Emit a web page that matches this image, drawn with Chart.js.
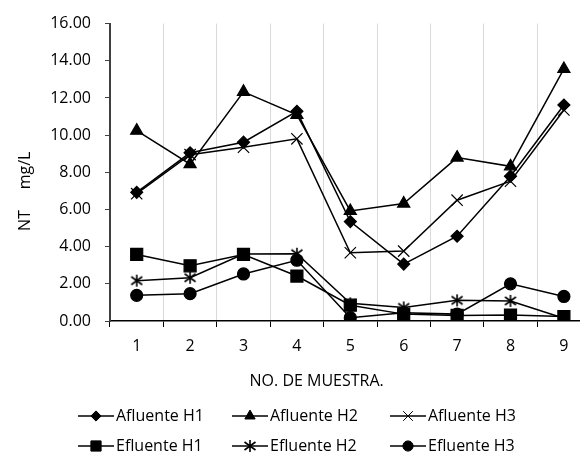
<!DOCTYPE html>
<html>
<head>
<meta charset="utf-8">
<script src="https://cdn.jsdelivr.net/npm/chart.js@4/dist/chart.umd.min.js"></script>
<style>
  html, body { margin: 0; padding: 0; background: #fff; overflow: hidden; width: 580px; height: 465px; }
  #wrap { position: relative; width: 620px; height: 465px; }
</style>
</head>
<body>
<div id="wrap"><canvas id="c" width="620" height="465"></canvas></div>
<script>
// Sample numbers (x axis)
const muestras = ['1', '2', '3', '4', '5', '6', '7', '8', '9'];

// Total nitrogen, mg/L
const afluenteH1 = [6.92, 9.05, 9.62, 11.28, 5.35, 3.06, 4.56, 7.79, 11.62];
const afluenteH2 = [10.24, 8.44, 12.33, 11.09, 5.92, 6.32, 8.79, 8.32, 13.56];
const afluenteH3 = [6.85, 8.95, 9.35, 9.80, 3.67, 3.76, 6.50, 7.52, 11.35];
const efluenteH1 = [3.58, 2.97, 3.58, 2.42, 0.85, 0.37, 0.30, 0.32, 0.24];
const efluenteH2 = [2.17, 2.33, 3.60, 3.62, 0.95, 0.73, 1.11, 1.08, 0.15];
const efluenteH3 = [1.38, 1.47, 2.53, 3.27, 0.18, 0.45, 0.37, 2.00, 1.32];

// Y axis range and step
const yMin = 0, yMax = 16, yStep = 2;

const FONT = '"Open Sans", "DejaVu Sans", sans-serif';

// six-armed asterisk marker
function asterisk(size) {
  const c = document.createElement('canvas');
  c.width = size; c.height = size;
  const g = c.getContext('2d');
  const m = size / 2;
  g.strokeStyle = '#000';
  g.lineWidth = 1.6;
  g.beginPath();
  g.moveTo(m, 1); g.lineTo(m, size - 1);
  g.moveTo(m - 5.5, m - 4); g.lineTo(m + 5.5, m + 4);
  g.moveTo(m - 5.5, m + 4); g.lineTo(m + 5.5, m - 4);
  g.stroke();
  return c;
}
const starImg = asterisk(14);

function series(label, data, style, radius) {
  return {
    label, data,
    borderColor: '#000', backgroundColor: '#000',
    borderWidth: 1.5,
    pointStyle: style, pointRadius: radius, pointHoverRadius: radius,
    pointBorderWidth: 1.2, pointBorderColor: '#000', pointBackgroundColor: '#000',
    tension: 0, fill: false
  };
}

const datasets = [
  series('Afluente H1', afluenteH1, 'rectRot', 6),
  series('Afluente H2', afluenteH2, 'triangle', 7),
  series('Afluente H3', afluenteH3, 'crossRot', 8),
  series('Efluente H1', efluenteH1, 'rect', 8.5),
  series('Efluente H2', efluenteH2, starImg, 7),
  series('Efluente H3', efluenteH3, 'circle', 6)
];

// axis titles and two-row legend
const decorations = {
  id: 'decorations',
  afterDraw(chart) {
    const { ctx, chartArea: a } = chart;
    ctx.save();
    ctx.fillStyle = '#000';
    ctx.font = '16px ' + FONT;
    ctx.textBaseline = 'middle';

    // y title
    ctx.save();
    ctx.translate(25, (a.top + a.bottom) / 2 + 19);
    ctx.rotate(-Math.PI / 2);
    ctx.textAlign = 'center';
    ctx.fillText('NT\u00a0\u00a0\u00a0\u00a0\u00a0mg/L', 0, 0);
    ctx.restore();

    // x title
    ctx.textAlign = 'center';
    ctx.fillText('NO. DE MUESTRA.', a.left + a.width * 0.43, a.bottom + 60);

    // legend
    const cols = [78, 232, 390];
    const rows = [a.bottom + 95, a.bottom + 125];
    ctx.textAlign = 'left';
    chart.data.datasets.forEach((ds, i) => {
      const x = cols[i % 3], y = rows[Math.floor(i / 3)];
      ctx.strokeStyle = '#000';
      ctx.lineWidth = 1.5;
      ctx.beginPath();
      ctx.moveTo(x, y); ctx.lineTo(x + 36, y);
      ctx.stroke();
      ctx.fillStyle = '#000';
      ctx.lineWidth = 1;
      Chart.helpers.drawPoint(ctx, {
        pointStyle: ds.pointStyle, radius: ds.pointRadius * 0.85,
        rotation: 0, borderWidth: 1
      }, x + 18, y);
      ctx.fillStyle = '#000';
      ctx.fillText(ds.label, x + 38, y);
    });
    ctx.restore();
  }
};

new Chart(document.getElementById('c'), {
  type: 'line',
  data: { labels: muestras, datasets },
  options: {
    responsive: false,
    animation: false,
    layout: { padding: { top: 19, right: 29.4, left: 0, bottom: 0 } },
    plugins: { legend: { display: false }, tooltip: { enabled: false } },
    scales: {
      x: {
        type: 'category',
        offset: true,
        grid: { offset: true, color: '#d9d9d9', lineWidth: 1, tickColor: '#000', tickLength: 6, drawTicks: true },
        border: { color: '#000', width: 1.5 },
        ticks: { color: '#000', font: { family: FONT, size: 16 }, padding: 10, maxRotation: 0 },
        afterFit: s => { s.height = 144; }
      },
      y: {
        min: yMin, max: yMax,
        ticks: { stepSize: yStep, color: '#000', font: { family: FONT, size: 16 }, padding: 14,
                 callback: v => v.toFixed(2) },
        grid: { drawOnChartArea: false, tickLength: 5, color: '#404040', tickColor: '#404040' },
        border: { color: '#404040', width: 2 },
        afterFit: s => { s.width = 110; }
      }
    }
  },
  plugins: [decorations]
});
</script>
</body>
</html>
